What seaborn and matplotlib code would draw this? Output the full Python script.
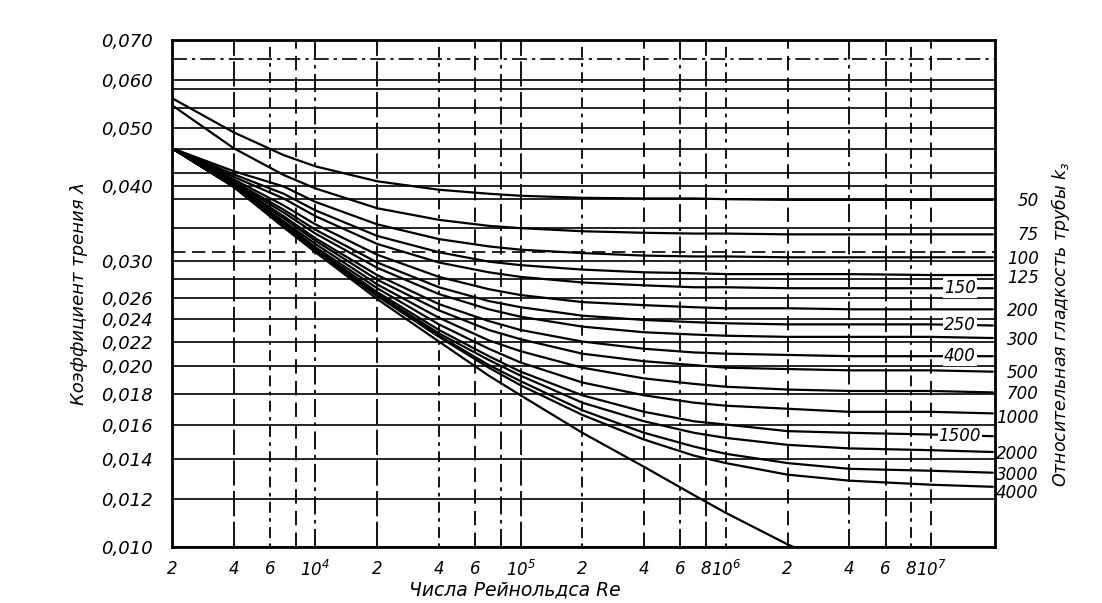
import numpy as np
import pandas as pd
import matplotlib
matplotlib.use("Agg")
import matplotlib.pyplot as plt
import seaborn as sns
from matplotlib.ticker import NullLocator

# ---------------- data ----------------
re_grid = [2e3, 4e3, 7e3, 1e4, 2e4, 4e4, 7e4, 1e5, 2e5, 4e5, 7e5, 1e6, 2e6, 4e6, 1e7, 2e7]

lam_50   = [0.0560, 0.0491, 0.0450, 0.0431, 0.0407, 0.0394, 0.0388, 0.0385, 0.0382, 0.0381, 0.0381, 0.0380, 0.0379, 0.0379, 0.0379, 0.0379]
lam_75   = [0.0545, 0.0462, 0.0417, 0.0396, 0.0367, 0.0351, 0.0343, 0.0340, 0.0336, 0.0334, 0.0333, 0.0333, 0.0332, 0.0332, 0.0332, 0.0332]
lam_100  = [0.0462, 0.0423, 0.0399, 0.0376, 0.0345, 0.0326, 0.0317, 0.0313, 0.0309, 0.0306, 0.0305, 0.0305, 0.0304, 0.0304, 0.0304, 0.0304]
lam_125  = [0.0462, 0.0418, 0.0388, 0.0364, 0.0330, 0.0310, 0.0299, 0.0295, 0.0290, 0.0287, 0.0286, 0.0285, 0.0285, 0.0285, 0.0284, 0.0284]
lam_150  = [0.0462, 0.0414, 0.0381, 0.0356, 0.0320, 0.0298, 0.0287, 0.0282, 0.0276, 0.0273, 0.0271, 0.0271, 0.0270, 0.0270, 0.0270, 0.0270]
lam_200  = [0.0462, 0.0410, 0.0371, 0.0345, 0.0307, 0.0282, 0.0269, 0.0263, 0.0256, 0.0253, 0.0251, 0.0250, 0.0250, 0.0249, 0.0249, 0.0249]
lam_250  = [0.0462, 0.0407, 0.0365, 0.0338, 0.0298, 0.0271, 0.0257, 0.0251, 0.0243, 0.0239, 0.0237, 0.0236, 0.0235, 0.0235, 0.0235, 0.0234]
lam_300  = [0.0462, 0.0405, 0.0361, 0.0333, 0.0292, 0.0264, 0.0249, 0.0242, 0.0233, 0.0228, 0.0226, 0.0225, 0.0224, 0.0224, 0.0224, 0.0223]
lam_400  = [0.0462, 0.0403, 0.0356, 0.0327, 0.0284, 0.0254, 0.0238, 0.0230, 0.0220, 0.0214, 0.0211, 0.0210, 0.0209, 0.0208, 0.0208, 0.0208]
lam_500  = [0.0462, 0.0401, 0.0353, 0.0324, 0.0279, 0.0248, 0.0230, 0.0222, 0.0210, 0.0204, 0.0201, 0.0199, 0.0198, 0.0197, 0.0197, 0.0196]
lam_700  = [0.0462, 0.0400, 0.0349, 0.0320, 0.0274, 0.0241, 0.0221, 0.0212, 0.0199, 0.0191, 0.0187, 0.0185, 0.0183, 0.0182, 0.0182, 0.0181]
lam_1000 = [0.0462, 0.0399, 0.0347, 0.0316, 0.0270, 0.0235, 0.0214, 0.0203, 0.0188, 0.0179, 0.0174, 0.0172, 0.0170, 0.0168, 0.0168, 0.0167]
lam_1500 = [0.0462, 0.0399, 0.0345, 0.0314, 0.0266, 0.0230, 0.0208, 0.0196, 0.0179, 0.0168, 0.0162, 0.0160, 0.0156, 0.0155, 0.0154, 0.0153]
lam_2000 = [0.0462, 0.0399, 0.0343, 0.0313, 0.0264, 0.0227, 0.0205, 0.0193, 0.0174, 0.0162, 0.0155, 0.0152, 0.0148, 0.0146, 0.0145, 0.0144]
lam_3000 = [0.0462, 0.0399, 0.0342, 0.0311, 0.0263, 0.0225, 0.0201, 0.0189, 0.0169, 0.0155, 0.0147, 0.0143, 0.0138, 0.0135, 0.0134, 0.0133]
lam_4000 = [0.0462, 0.0399, 0.0342, 0.0311, 0.0262, 0.0224, 0.0199, 0.0186, 0.0166, 0.0151, 0.0142, 0.0138, 0.0132, 0.0129, 0.0127, 0.0126]

re_smooth  = [2e3, 4e3, 7e3, 1e4, 2e4, 4e4, 7e4, 1e5, 2e5, 4e5, 7e5, 1e6, 2e6, 4e6]
lam_smooth = [0.0462, 0.0398, 0.0341, 0.0310, 0.0259, 0.0220, 0.0193, 0.0179, 0.0155, 0.0136, 0.0122, 0.0114, 0.0101, 0.0091]

curve_names = ["50", "75", "100", "125", "150", "200", "250", "300", "400",
               "500", "700", "1000", "1500", "2000", "3000", "4000"]
curve_values = [lam_50, lam_75, lam_100, lam_125, lam_150, lam_200, lam_250, lam_300,
                lam_400, lam_500, lam_700, lam_1000, lam_1500, lam_2000, lam_3000, lam_4000]

# labels on the right, outside the frame
right_labels = ["50", "75", "100", "125", "200", "300", "500", "700",
                "1000", "2000", "3000", "4000"]
right_label_lam = [0.0378, 0.0331, 0.0302, 0.0281, 0.0247, 0.0221, 0.0195, 0.0180,
                   0.0164, 0.0143, 0.0132, 0.0123]
# labels written inside the frame on the curve ends
inner_labels = ["150", "250", "400", "1500"]

y_ticks = [0.010, 0.012, 0.014, 0.016, 0.018, 0.020, 0.022, 0.024, 0.026,
           0.030, 0.040, 0.050, 0.060, 0.070]
y_tick_labels = ["0,010", "0,012", "0,014", "0,016", "0,018", "0,020", "0,022",
                 "0,024", "0,026", "0,030", "0,040", "0,050", "0,060", "0,070"]
y_extra_grid = [0.028, 0.034, 0.038, 0.042, 0.046, 0.054, 0.058]
y_dash_grid = [0.031]
y_dashdot_grid = [0.065]

x_ticks = [2e3, 4e3, 6e3, 1e4, 2e4, 4e4, 6e4, 1e5, 2e5, 4e5, 6e5, 8e5, 1e6,
           2e6, 4e6, 6e6, 8e6, 1e7]
x_tick_labels = ["2", "4", "6", "$10^4$", "2", "4", "6", "$10^5$", "2", "4", "6", "8",
                 "$10^6$", "2", "4", "6", "8", "$10^7$"]
x_grid = [4e3, 6e3, 8e3, 1e4, 2e4, 4e4, 6e4, 8e4, 1e5, 2e5, 4e5, 6e5, 8e5, 1e6,
          2e6, 4e6, 6e6, 8e6, 1e7]

# ---------------- build table ----------------
rows = []
for name, vals in zip(curve_names, curve_values):
    for r, v in zip(re_grid, vals):
        rows.append({"Re": r, "lam": v, "curve": name})
for r, v in zip(re_smooth, lam_smooth):
    rows.append({"Re": r, "lam": v, "curve": "smooth"})
df = pd.DataFrame(rows)

# ---------------- style ----------------
sns.set_theme(style="white")
plt.rcParams["font.family"] = ["DejaVu Sans"]
plt.rcParams["font.style"] = "italic"
plt.rcParams["mathtext.fontset"] = "dejavusans"
plt.rcParams["mathtext.default"] = "it"

fig = plt.figure(figsize=(11.02, 6.03), dpi=100)
ax = fig.add_axes([172 / 1102, 1 - 547 / 603, (995 - 172) / 1102, (547 - 40) / 603])

ax.set_xscale("log")
ax.set_yscale("log")
ax.set_xlim(2000, 2.05e7)
ax.set_ylim(0.010, 0.070)

# grid
for yv in y_ticks + y_extra_grid:
    ax.axhline(yv, color="black", lw=1.2, zorder=1)
for yv in y_dash_grid:
    ax.axhline(yv, color="black", lw=1.2, ls=(0, (8, 4)), zorder=1)
for yv in y_dashdot_grid:
    ax.axhline(yv, color="black", lw=1.2, ls=(0, (9, 3, 2, 3)), zorder=1)

v_styles = [(0, (14, 3)), (0, (2, 3, 6, 3)), (0, (8, 4)), (0, (10, 3, 2, 3))]
for i, xv in enumerate(x_grid):
    ax.axvline(xv, color="black", lw=1.3, ls=v_styles[i % len(v_styles)], zorder=1)

# curves
sns.lineplot(data=df, x="Re", y="lam", units="curve", estimator=None,
             color="black", lw=1.6, ax=ax, legend=False, zorder=3)

# frame
for sp in ax.spines.values():
    sp.set_color("black")
    sp.set_linewidth(2.0)

# ticks
ax.yaxis.set_minor_locator(NullLocator())
ax.xaxis.set_minor_locator(NullLocator())
ax.set_yticks(y_ticks)
ax.set_yticklabels(y_tick_labels)
ax.set_xticks(x_ticks)
ax.set_xticklabels(x_tick_labels)
ax.tick_params(axis="y", length=0, labelsize=13, colors="black", pad=14)
ax.tick_params(axis="x", length=0, labelsize=12, colors="black", pad=9)
ax.set_xlabel("")
ax.set_ylabel("Коэффициент трения λ", fontsize=13, labelpad=9, color="black")

# right-side labels (outside)
trans = ax.get_yaxis_transform()
for txt, yv in zip(right_labels, right_label_lam):
    ax.text(1.053, yv, txt, transform=trans, ha="right", va="center",
            fontsize=12, color="black", clip_on=False)

# labels inside the frame on the curve ends
for txt in inner_labels:
    yv = curve_values[curve_names.index(txt)][-1]
    ax.text(1.38e7, yv, txt, ha="center", va="center", fontsize=12, color="black",
            zorder=5, bbox=dict(facecolor="white", edgecolor="none", pad=0.6))

# axis titles
ax.text(1.079, 0.44, "Относительная гладкость трубы $k_з$", transform=ax.transAxes,
        rotation=90, ha="center", va="center", fontsize=12.5, color="black")
fig.text(515 / 1102, 1 - 580 / 603, "Числа Рейнольдса Re", ha="center", va="top",
         fontsize=13.5, color="black")

fig.savefig("out.png", dpi=100, facecolor="white")
